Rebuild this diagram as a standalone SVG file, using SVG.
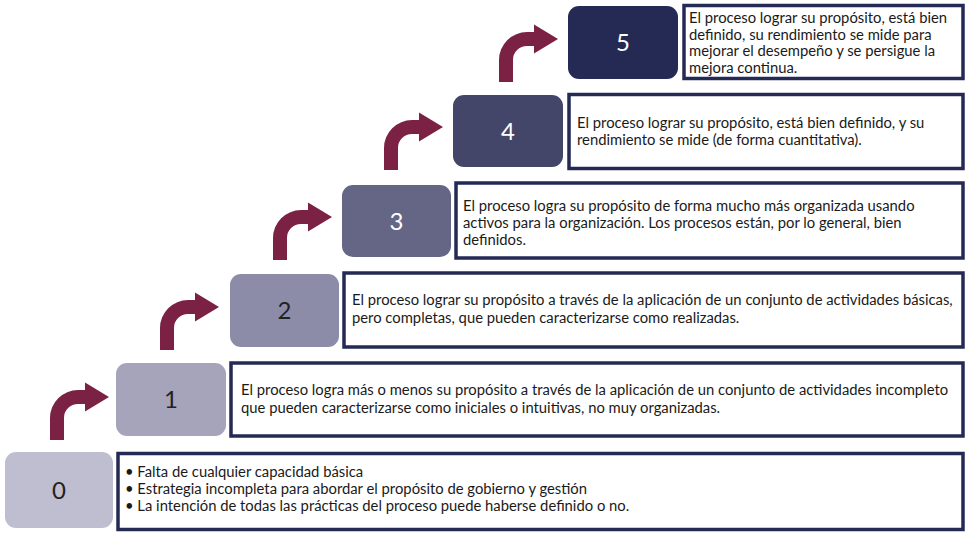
<svg xmlns="http://www.w3.org/2000/svg" xmlns:xlink="http://www.w3.org/1999/xlink" width="968" height="533" viewBox="0 0 968 533">
<style>
.lvl{stroke:none}
.desc{fill:#ffffff;stroke:#252a55;stroke-width:3.5}
.num{font-family:Lato,"Open Sans",sans-serif;font-size:24px;text-anchor:middle}
.txt{font-family:Lato,"Open Sans",sans-serif;font-size:14.8px;fill:#1a1a1a}
.arw{fill:#7b2143}
</style>
<defs>
<path id="bent" d="M0,43 L0,21 A28,28 0 0 1 28,-7 L35,-7 L35,-14.5 L59,0 L35,14.5 L35,7 L28,7 A14,14 0 0 0 14,21 L14,43 Z"/>
</defs>
<rect width="968" height="533" fill="#ffffff"/>
<g id="connectors">
<use xlink:href="#bent" class="arw" transform="translate(50,397)"/>
<use xlink:href="#bent" class="arw" transform="translate(160,307)"/>
<use xlink:href="#bent" class="arw" transform="translate(273,217)"/>
<use xlink:href="#bent" class="arw" transform="translate(384,127)"/>
<use xlink:href="#bent" class="arw" transform="translate(499,39)"/>
</g>
<g id="level0">
<rect class="lvl" x="5" y="452" width="108" height="76" rx="11" fill="#bfbed0"/>
<text class="num" x="59" y="499" fill="#222">0</text>
</g>
<g id="desc0">
<rect class="desc" x="118" y="453.5" width="845" height="76"/>
<text class="txt" x="125" y="477">• Falta de cualquier capacidad básica</text>
<text class="txt" x="125" y="494">• Estrategia incompleta para abordar el propósito de gobierno y gestión</text>
<text class="txt" x="125" y="511">• La intención de todas las prácticas del proceso puede haberse definido o no.</text>
</g>
<g id="level1">
<rect class="lvl" x="116" y="363" width="110" height="73" rx="11" fill="#a5a4bb"/>
<text class="num" x="171" y="408" fill="#222">1</text>
</g>
<g id="desc1">
<rect class="desc" x="231" y="363" width="732" height="73"/>
<text class="txt" x="241" y="395">El proceso logra más o menos su propósito a través de la aplicación de un conjunto de actividades incompleto</text>
<text class="txt" x="241" y="413">que pueden caracterizarse como iniciales o intuitivas, no muy organizadas.</text>
</g>
<g id="level2">
<rect class="lvl" x="230" y="274" width="109" height="73" rx="11" fill="#8c8ca8"/>
<text class="num" x="284.5" y="319" fill="#222">2</text>
</g>
<g id="desc2">
<rect class="desc" x="344" y="273" width="619" height="74"/>
<text class="txt" x="352" y="305">El proceso lograr su propósito a través de la aplicación de un conjunto de actividades básicas,</text>
<text class="txt" x="352" y="323">pero completas, que pueden caracterizarse como realizadas.</text>
</g>
<g id="level3">
<rect class="lvl" x="342" y="185" width="109" height="72" rx="11" fill="#656686"/>
<text class="num" x="396.5" y="229.5" fill="#ffffff">3</text>
</g>
<g id="desc3">
<rect class="desc" x="456" y="183" width="507" height="75"/>
<text class="txt" x="463" y="211">El proceso logra su propósito de forma mucho más organizada usando</text>
<text class="txt" x="463" y="228">activos para la organización. Los procesos están, por lo general, bien</text>
<text class="txt" x="463" y="245">definidos.</text>
</g>
<g id="level4">
<rect class="lvl" x="453" y="95" width="110" height="72" rx="11" fill="#434669"/>
<text class="num" x="508" y="139.5" fill="#ffffff">4</text>
</g>
<g id="desc4">
<rect class="desc" x="569" y="94.5" width="394" height="74"/>
<text class="txt" x="577" y="128">El proceso lograr su propósito, está bien definido, y su</text>
<text class="txt" x="577" y="145">rendimiento se mide (de forma cuantitativa).</text>
</g>
<g id="level5">
<rect class="lvl" x="568" y="6" width="110" height="73" rx="11" fill="#252a55"/>
<text class="num" x="623" y="51" fill="#ffffff">5</text>
</g>
<g id="desc5">
<rect class="desc" x="684" y="5.5" width="279" height="73"/>
<text class="txt" x="689" y="23">El proceso lograr su propósito, está bien</text>
<text class="txt" x="689" y="39.5">definido, su rendimiento se mide para</text>
<text class="txt" x="689" y="56">mejorar el desempeño y se persigue la</text>
<text class="txt" x="689" y="72.5">mejora continua.</text>
</g>
</svg>
